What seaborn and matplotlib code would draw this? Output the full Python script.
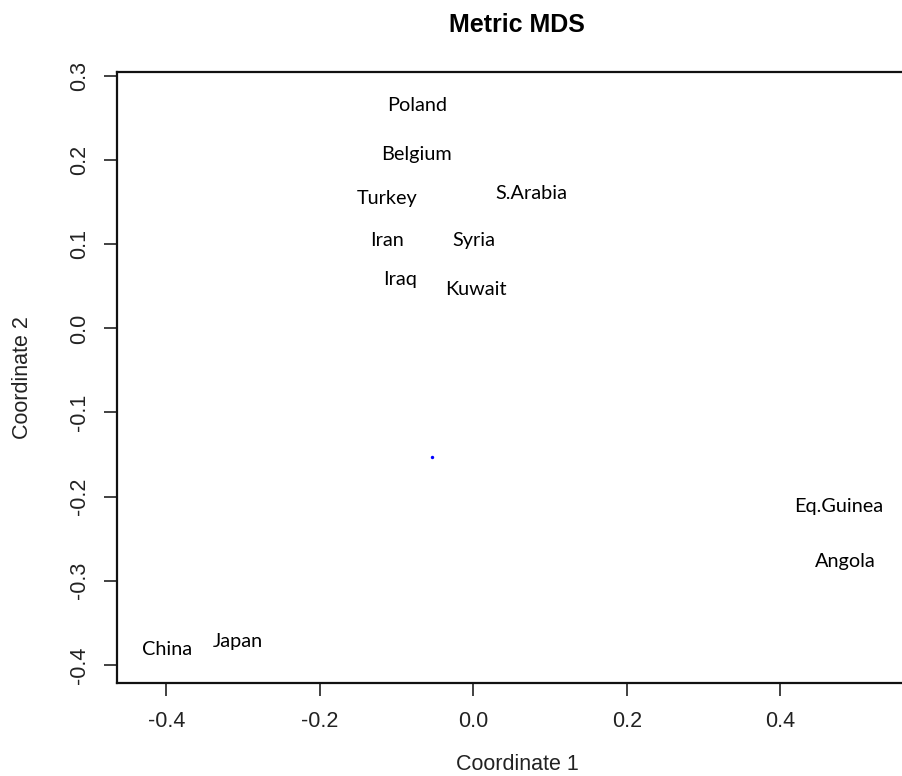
import seaborn as sns
import numpy as np
import pandas as pd
import matplotlib.pyplot as plt

# labels of metric MDS solution
countries = ['Poland', 'Belgium', 'Turkey', 'S.Arabia', 'Iran', 'Syria',
             'Iraq', 'Kuwait', 'China', 'Japan', 'Eq.Guinea', 'Angola']
coord1 = [-0.073, -0.074, -0.113, 0.076, -0.113, 0.001,
          -0.096, 0.003, -0.399, -0.307, 0.476, 0.484]
coord2 = [0.265, 0.207, 0.154, 0.160, 0.104, 0.104,
          0.058, 0.046, -0.382, -0.372, -0.212, -0.277]
# the single blue point
pt_x = [-0.0545]
pt_y = [-0.153]

df = pd.DataFrame({'country': countries, 'c1': coord1, 'c2': coord2})
pt = pd.DataFrame({'c1': pt_x, 'c2': pt_y})

sns.set_style('white')
plt.rcParams['font.family'] = ['Liberation Sans', 'DejaVu Sans']
plt.rcParams['text.color'] = 'black'

fig = plt.figure(figsize=(9.03, 7.76), dpi=100)
ax = fig.add_axes([117/903, 1-683/776, 800/903, (683-72)/776])

sns.scatterplot(data=pt, x='c1', y='c2', color='blue', s=6, linewidth=0, ax=ax)
for _, r in df.iterrows():
    ax.text(r['c1'], r['c2'], r['country'], ha='center', va='center',
            fontsize=14.3, family='Lato', color='black')

ax.set_xlim(-0.4645, 0.578)
ax.set_ylim(-0.4216, 0.3048)
ax.set_xticks([-0.4, -0.2, 0.0, 0.2, 0.4])
ax.set_yticks([-0.4, -0.3, -0.2, -0.1, 0.0, 0.1, 0.2, 0.3])
ax.set_xticklabels(['-0.4', '-0.2', '0.0', '0.2', '0.4'], fontsize=15.5, color='#222222')
ax.set_yticklabels(['-0.4', '-0.3', '-0.2', '-0.1', '0.0', '0.1', '0.2', '0.3'],
                   fontsize=15.5, rotation=90, va='center', color='#222222')
ax.tick_params(direction='out', length=9.5, width=1.3, color='#333333',
               bottom=True, left=True)
ax.tick_params(axis='x', pad=11)
ax.tick_params(axis='y', pad=10)
for s in ax.spines.values():
    s.set_linewidth(1.6)
    s.set_color('#111111')
ax.spines['right'].set_visible(False)

ax.set_xlabel('Coordinate 1', fontsize=15.5, labelpad=15.5, color='#222222')
ax.set_ylabel('Coordinate 2', fontsize=15.5, labelpad=26, color='#222222')
ax.set_title('Metric MDS', fontsize=18, fontweight='bold', pad=28.5, color='black')

plt.savefig('out.png', dpi=100)
